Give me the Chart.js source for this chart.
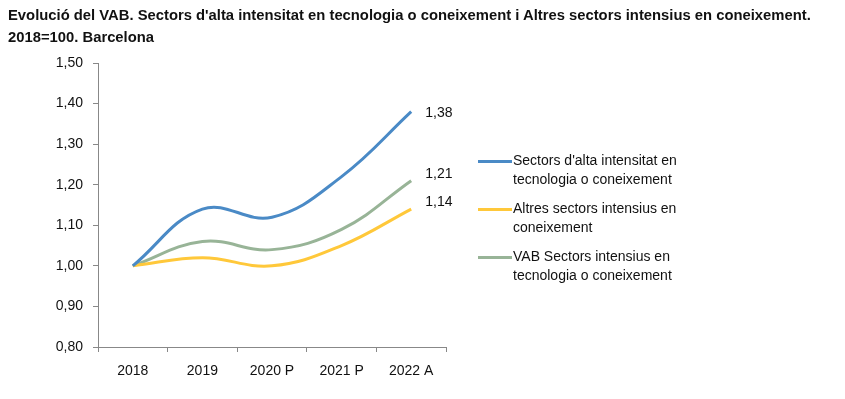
<!DOCTYPE html>
<html><head><meta charset="utf-8">
<script src="https://cdn.jsdelivr.net/npm/chart.js@4/dist/chart.umd.min.js"></script>
<style>
html,body{margin:0;padding:0;background:#fff;}
#wrap{position:relative;width:845px;height:399px;overflow:hidden;font-family:"Liberation Sans",Arial,sans-serif;}
#title{position:absolute;left:8px;top:4px;font-weight:bold;font-size:14.8px;line-height:22px;color:#111;white-space:nowrap;}
#cv{position:absolute;left:0;top:0;}
#legend{position:absolute;left:478px;top:151px;font-size:14px;color:#111;}
.li{position:relative;padding-left:35px;line-height:18.5px;margin-bottom:11px;}
.li span{position:absolute;left:0;top:9px;width:34px;height:3px;}
</style></head>
<body>
<div id="wrap">
<canvas id="cv" width="845" height="399"></canvas>
<div id="title">Evolució del VAB. Sectors d'alta intensitat en tecnologia o coneixement i Altres sectors intensius en coneixement.<br>2018=100. Barcelona</div>
<div id="legend"></div>
</div>
<script>
const categories = ["2018", "2019", "2020 P", "2021 P", "2022 A"];
const altaIntensitat = [1.00, 1.14, 1.12, 1.22, 1.38];
const altresSectors = [1.00, 1.02, 1.00, 1.05, 1.14];
const vabIntensius = [1.00, 1.06, 1.04, 1.09, 1.21];
const seriesNames = [
  ["Sectors d'alta intensitat en", "tecnologia o coneixement"],
  ["Altres sectors intensius en", "coneixement"],
  ["VAB Sectors intensius en", "tecnologia o coneixement"]
];
const yTicks = [0.80, 0.90, 1.00, 1.10, 1.20, 1.30, 1.40, 1.50];

const colors = ["#4a8ac6", "#ffc83a", "#98b497"];
const labelDy = [1, -7, -7];
const FONT = '"Liberation Sans",Arial,sans-serif';

const fmt = v => v.toFixed(2).replace('.', ',');

const lg = document.getElementById('legend');
seriesNames.forEach((n, i) => {
  const d = document.createElement('div');
  d.className = 'li';
  d.innerHTML = '<span style="background:' + colors[i] + '"></span>' + n.join('<br>');
  lg.appendChild(d);
});

const endLabels = {
  id: 'endLabels',
  afterDatasetsDraw(chart) {
    const ctx = chart.ctx;
    ctx.save();
    ctx.font = '14px ' + FONT;
    ctx.fillStyle = '#111';
    ctx.textBaseline = 'middle';
    chart.data.datasets.forEach((ds, i) => {
      const meta = chart.getDatasetMeta(i);
      const p = meta.data[meta.data.length - 1];
      ctx.fillText(fmt(ds.data[ds.data.length - 1]), p.x + 14, p.y + labelDy[i]);
    });
    ctx.restore();
  }
};

const mk = (label, data, c) => ({
  label, data, borderColor: c, backgroundColor: c, borderWidth: 3,
  pointRadius: 0, tension: 0.4, fill: false
});

new Chart(document.getElementById('cv'), {
  type: 'line',
  data: {
    labels: categories,
    datasets: [
      mk(seriesNames[0].join(' '), altaIntensitat, colors[0]),
      mk(seriesNames[1].join(' '), altresSectors, colors[1]),
      mk(seriesNames[2].join(' '), vabIntensius, colors[2])
    ]
  },
  options: {
    responsive: false,
    animation: false,
    devicePixelRatio: 1,
    layout: { padding: { left: 0, right: 399, top: 63, bottom: 0 } },
    plugins: { legend: { display: false }, tooltip: { enabled: false }, title: { display: false } },
    scales: {
      x: {
        offset: true,
        grid: { display: true, drawOnChartArea: false, offset: true, tickLength: 5, color: '#888' },
        border: { color: '#888', width: 1 },
        ticks: { color: '#111', font: { family: FONT, size: 14 }, padding: 11, maxRotation: 0 },
        afterFit(s) { s.height = 52; }
      },
      y: {
        min: 0.8, max: 1.5,
        afterBuildTicks(s) { s.ticks = yTicks.map(v => ({ value: v })); },
        grid: { display: true, drawOnChartArea: false, tickLength: 5, color: '#888' },
        border: { color: '#888', width: 1 },
        ticks: { color: '#111', font: { family: FONT, size: 14 }, padding: 10, callback: v => fmt(v) },
        afterFit(s) { s.width = 98; }
      }
    }
  },
  plugins: [endLabels]
});
</script>
</body></html>
